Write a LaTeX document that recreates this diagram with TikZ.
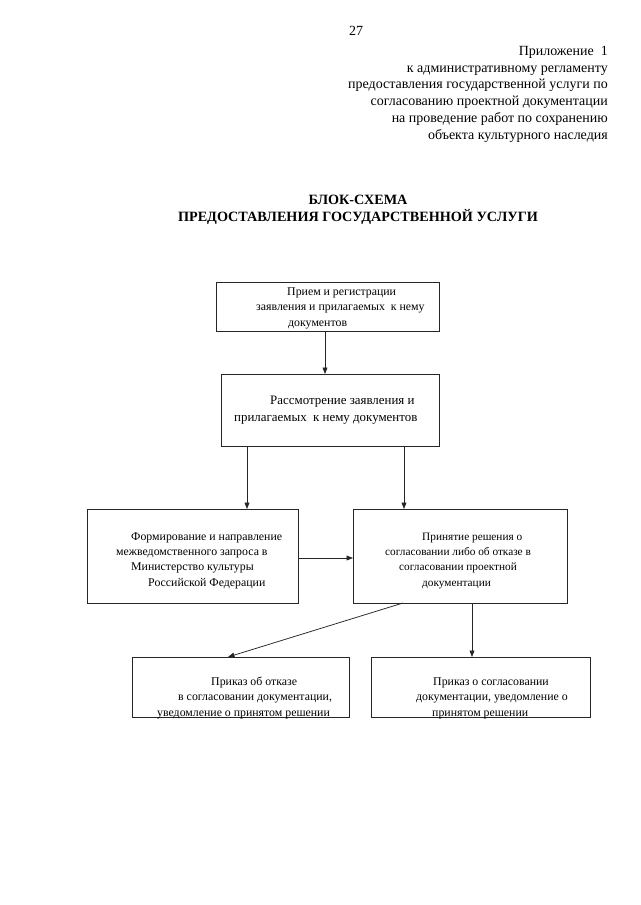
\documentclass[tikz,border=0pt]{standalone}
\usepackage{fontspec}
\setmainfont{Liberation Serif}
\usetikzlibrary{arrows.meta}
\newdimen\pxd \pxd=0.9297pt
\begin{document}
\begin{tikzpicture}[x=0.9297pt,y=-0.9297pt,
  box/.style={draw=black!85, line width=0.7pt, inner sep=0pt, outer sep=0pt},
  boxtxt/.style={inner sep=0pt, align=left, anchor=base west},
  headtxt/.style={font=\fontsize{13}{15.5}\selectfont, inner sep=0pt},
  arr/.style={draw=black!85, line width=0.7pt, -{Triangle[length=6pt,width=4.5pt]}}]
\useasboundingbox[fill=white] (0,0) rectangle (640,905);

% header (base anchor = baseline of last line)
\node[headtxt, anchor=base] (pg) at (356,35) {27};
\node[headtxt, anchor=base east, align=right] (appx) at (608,139)
  {Приложение\ \ 1\\
   к административному регламенту\\
   предоставления государственной услуги по\\
   согласованию проектной документации\\
   на проведение работ по сохранению\\
   объекта культурного наследия};
\node[headtxt, anchor=base, align=center, font=\fontsize{13.2}{15}\selectfont\bfseries] (title) at (358,221)
  {БЛОК-СХЕМА\\ПРЕДОСТАВЛЕНИЯ ГОСУДАРСТВЕННОЙ УСЛУГИ};

% boxes
\node[box, minimum width=223*\pxd, minimum height=49*\pxd] (b1) at (327.5,306.5) {};
\node[box, minimum width=218*\pxd, minimum height=72*\pxd] (b2) at (330,410) {};
\node[box, minimum width=211*\pxd, minimum height=94*\pxd] (b3) at (192.5,556) {};
\node[box, minimum width=214*\pxd, minimum height=94*\pxd] (b4) at (460,556) {};
\node[box, minimum width=217*\pxd, minimum height=60*\pxd] (b5) at (240.5,687) {};
\node[box, minimum width=219*\pxd, minimum height=60*\pxd] (b6) at (480.5,687) {};

% texts (anchored at the baseline of the last line)
\node[boxtxt, font=\fontsize{11}{14.4}\selectfont] (t1) at (256,326) {\hspace*{31\pxd}Прием и регистрации\\
  заявления и прилагаемых\ \ к нему\\
  \hspace*{32\pxd}документов};
\node[boxtxt, font=\fontsize{12}{14.9}\selectfont] (t2) at (234,421) {\hspace*{36\pxd}Рассмотрение заявления и\\
  прилагаемых\ \ к нему документов};
\node[boxtxt, font=\fontsize{11}{14.2}\selectfont] (t3) at (116,586) {\hspace*{15\pxd}Формирование и направление\\
  межведомственного запроса в\\
  \hspace*{15\pxd}Министерство культуры\\
  \hspace*{32\pxd}Российской Федерации};
\node[boxtxt, font=\fontsize{10.5}{14.2}\selectfont] (t4) at (385,586) {\hspace*{37\pxd}Принятие решения о\\
  согласовании либо об отказе в\\
  \hspace*{14\pxd}согласовании проектной\\
  \hspace*{37\pxd}документации};
\node[boxtxt, font=\fontsize{11}{14.3}\selectfont] (t5) at (157,716) {\hspace*{54\pxd}Приказ об отказе\\
  \hspace*{21\pxd}в согласовании документации,\\
  уведомление о принятом решении};
\node[boxtxt, font=\fontsize{11}{14.3}\selectfont] (t6) at (416,716) {\hspace*{17\pxd}Приказ о согласовании\\
  документации, уведомление о\\
  \hspace*{16\pxd}принятом решении};

% connector positions
\coordinate (x1) at (325,0);
\coordinate (x2) at (247,0);
\coordinate (x3) at (404,0);
\coordinate (y4) at (0,558);
\coordinate (x5s) at (403,0);
\coordinate (x5e) at (228,0);
\coordinate (x6) at (472,0);

\draw[arr] (b1.south -| x1) -- (b2.north -| x1);
\draw[arr] (b2.south -| x2) -- (b3.north -| x2);
\draw[arr] (b2.south -| x3) -- (b4.north -| x3);
\draw[arr] (b3.east |- y4) -- (b4.west |- y4);
\draw[arr] (b4.south -| x5s) -- (b5.north -| x5e);
\draw[arr] (b4.south -| x6) -- (b6.north -| x6);
\end{tikzpicture}
\end{document}
